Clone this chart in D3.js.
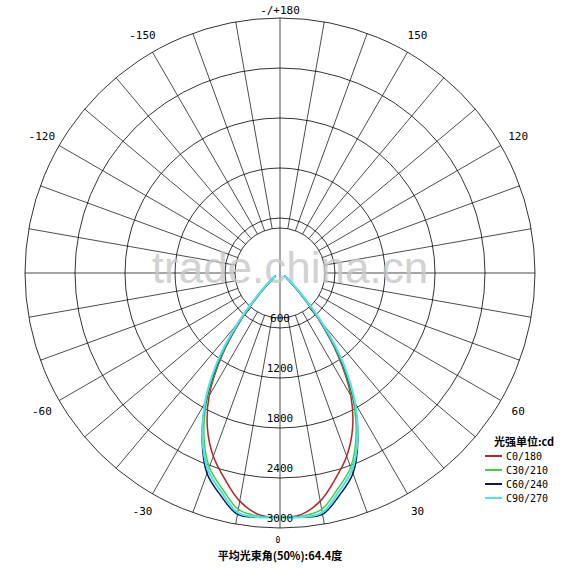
<!DOCTYPE html>
<html>
<head>
<meta charset="UTF-8">
<script src="https://d3js.org/d3.v7.min.js"></script>
<style>
  body { margin: 0; background: #fff; }
  text { font-family: "DejaVu Sans Mono", monospace; }
</style>
</head>
<body>
<svg id="chart" width="585" height="571"></svg>
<script>
// gamma angle (deg from nadir) and intensity (cd) per C-plane, mirrored both sides
const angles = [0, 5, 10, 15, 20, 25, 30, 35, 40, 45, 50, 55, 60];
const c0   = [2870, 2850, 2720, 2500, 2280, 2000, 1640, 1160, 650, 250, 80, 20, 0];
const c30  = [2870, 2870, 2820, 2620, 2420, 2100, 1690, 1190, 680, 270, 90, 20, 0];
const c60  = [2870, 2880, 2880, 2700, 2500, 2150, 1720, 1220, 700, 280, 90, 20, 0];
const c90  = [2870, 2880, 2860, 2660, 2460, 2140, 1740, 1260, 730, 310, 110, 25, 0];
const ringValues = [600, 1200, 1800, 2400, 3000];
const angleLabels = [30, 60, 120, 150, -30, -60, -120, -150];
const seriesNames = ["C0/180", "C30/210", "C60/240", "C90/270"];
const seriesColors = ["#b3262a", "#3fcf4a", "#0d1a4a", "#4fe3e6"];

const svg = d3.select("#chart");
const cx = 280, cy = 273, inner = 45;
const r = d3.scaleLinear().domain([0, 3000]).range([5, 255]);

// angle in degrees, 0 = down, positive = clockwise to right side
function pt(deg, rad) {
  const a = deg * Math.PI / 180;
  return [cx + rad * Math.sin(a), cy + rad * Math.cos(a)];
}

const g = svg.append("g");
ringValues.forEach(v => {
  g.append("circle").attr("cx", cx).attr("cy", cy).attr("r", r(v))
    .attr("fill", "none").attr("stroke", "#000").attr("stroke-width", 0.8);
});
g.append("circle").attr("cx", cx).attr("cy", cy).attr("r", inner)
  .attr("fill", "none").attr("stroke", "#000").attr("stroke-width", 0.8);
d3.range(0, 360, 10).forEach(d => {
  const p1 = pt(d, inner), p2 = pt(d, r(3000));
  g.append("line").attr("x1", p1[0]).attr("y1", p1[1]).attr("x2", p2[0]).attr("y2", p2[1])
    .attr("stroke", "#000").attr("stroke-width", 0.7);
});
g.append("line").attr("x1", cx).attr("x2", cx).attr("y1", cy - inner).attr("y2", cy + inner)
  .attr("stroke", "#000").attr("stroke-width", 0.7);

// watermark
svg.append("text").attr("x", 290).attr("y", 283).attr("text-anchor", "middle")
  .attr("font-size", 44).style("font-family", "Liberation Sans, sans-serif")
  .attr("fill", "#c8c8c8").attr("opacity", 0.8).text("trade.china.cn");

// curves
const line = d3.line().curve(d3.curveCatmullRom);
[c0, c30, c60, c90].forEach((vals, i) => {
  const pts = [];
  for (let k = angles.length - 1; k >= 0; k--) pts.push(pt(-angles[k], r(vals[k])));
  for (let k = 1; k < angles.length; k++) pts.push(pt(angles[k], r(vals[k])));
  svg.append("path").attr("d", line(pts)).attr("fill", "none")
    .attr("stroke", seriesColors[i]).attr("stroke-width", i === 3 ? 2.2 : 1.5);
});

// ring labels
ringValues.forEach(v => {
  svg.append("text").attr("x", cx).attr("y", cy + r(v) - 6).attr("text-anchor", "middle")
    .attr("font-size", 11).text(v);
});

// angle labels
angleLabels.forEach(d => {
  const p = pt(d, 275);
  svg.append("text").attr("x", p[0]).attr("y", p[1] + 4).attr("text-anchor", "middle")
    .attr("font-size", 11).text(d);
});
svg.append("text").attr("x", cx).attr("y", 14).attr("text-anchor", "middle")
  .attr("font-size", 11).text("-/+180");
svg.append("text").attr("x", cx - 2).attr("y", 543).attr("text-anchor", "middle")
  .attr("font-size", 8).text("0");
svg.append("text").attr("x", cx).attr("y", 560).attr("text-anchor", "middle")
  .attr("font-size", 11).style("font-family", "Noto Sans CJK SC, sans-serif")
  .attr("font-weight", "bold").text("平均光束角(50%):64.4度");

// legend
const lg = svg.append("g").attr("transform", "translate(482,446)");
lg.append("text").attr("x", 12).attr("y", 0).attr("font-size", 11)
  .style("font-family", "Noto Sans CJK SC, sans-serif").attr("font-weight", "bold")
  .text("光强单位:cd");
seriesNames.forEach((n, i) => {
  const y = 14 + i * 14;
  lg.append("line").attr("x1", 3).attr("x2", 20).attr("y1", y - 4).attr("y2", y - 4)
    .attr("stroke", seriesColors[i]).attr("stroke-width", 2);
  lg.append("text").attr("x", 24).attr("y", y).attr("font-size", 10).text(n);
});
</script>
</body>
</html>
